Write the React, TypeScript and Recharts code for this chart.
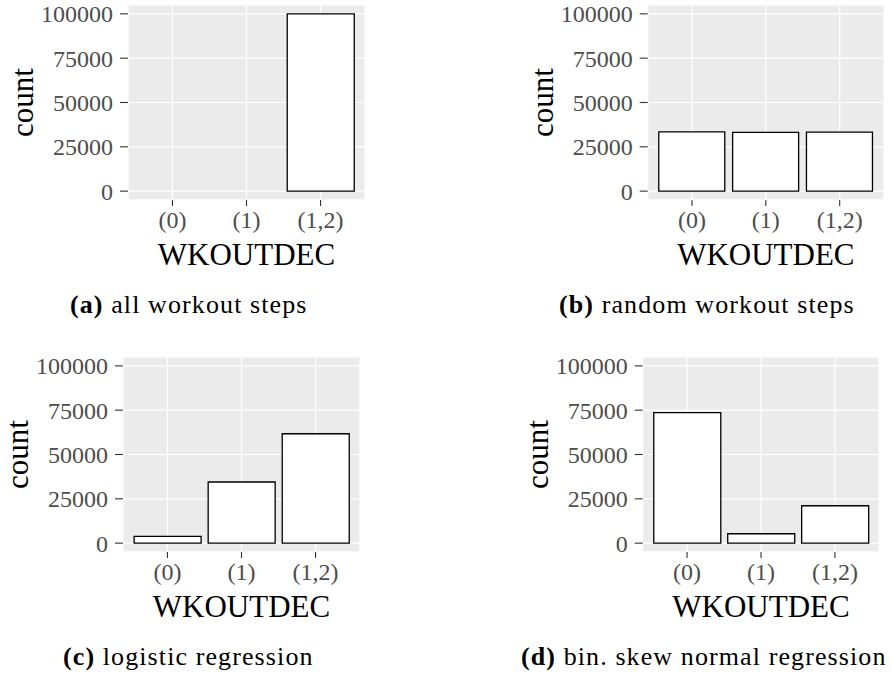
import React from "react"
import { BarChart, Bar, XAxis, YAxis, CartesianGrid } from "recharts"

const categories = ["(0)", "(1)", "(1,2)"]
const allWorkoutSteps = [0, 0, 100000]
const randomWorkoutSteps = [33400, 33200, 33300]
const logisticRegression = [3800, 34500, 61700]
const skewNormalRegression = [73600, 5300, 21100]

const majorTicks = [0, 25000, 50000, 75000, 100000]
const minorTicks = [12500, 37500, 62500, 87500]
const yDomain = [-5000, 105000]

const FONT = '"Liberation Serif", "DejaVu Serif", serif'

interface PanelProps { values: number[]; left: number; top: number; plotLeft: number; plotRight: number }

function Panel({ values, left, top, plotLeft, plotRight }: PanelProps) {
  const data = categories.map((name, i) => ({ name, count: values[i] }))
  const W = 446, H = 275, yW = 100, xH = 40
  const pad = (plotRight - plotLeft) / 32
  return (
    <div style={{ position: "absolute", left, top }}>
      <BarChart width={W} height={H} data={data} barCategoryGap="5%"
        margin={{ top: 5, left: plotLeft - yW, right: W - plotRight, bottom: 35 }}>
        <CartesianGrid fill="#EBEBEB" stroke="#FFFFFF" strokeWidth={1.2} />
        <CartesianGrid yAxisId="minor" vertical={false} stroke="#FFFFFF" strokeWidth={0.6} />
        <YAxis yAxisId="minor" hide type="number" domain={yDomain} ticks={minorTicks} />
        <XAxis dataKey="name" height={xH} padding={{ left: pad, right: pad }}
          axisLine={false} tickSize={6} tickMargin={5}
          tickLine={{ stroke: "#333333", strokeWidth: 1.1 }}
          tick={{ fill: "#4D4D4D", fontSize: 24, fontFamily: FONT }}
          label={(p: any) => (
            <text x={p.viewBox.x + p.viewBox.width / 2} y={p.viewBox.y + 65} textAnchor="middle"
              fill="#000" fontSize={31} fontFamily={FONT}>WKOUTDEC</text>
          )} />
        <YAxis type="number" width={yW} domain={yDomain} ticks={majorTicks} interval={0}
          axisLine={false} tickSize={8} tickMargin={7}
          tickLine={{ stroke: "#333333", strokeWidth: 1.1 }}
          tick={{ fill: "#4D4D4D", fontSize: 24, fontFamily: FONT }}
          label={(p: any) => {
            const x = p.viewBox.x + p.viewBox.width - 95
            const y = p.viewBox.y + p.viewBox.height / 2
            return (
              <text x={x} y={y} transform={`rotate(-90, ${x}, ${y})`} textAnchor="middle"
                fill="#000" fontSize={31} fontFamily={FONT}>count</text>
            )
          }} />
        <Bar dataKey="count" fill="#FFFFFF" stroke="#000000" strokeWidth={1.3} isAnimationActive={false} />
      </BarChart>
    </div>
  )
}

const captionStyle = { fontSize: 26, fontFamily: FONT, letterSpacing: 1.1, fill: "#000" }

export default function App() {
  return (
    <div style={{ position: "absolute", left: 0, top: 0, width: 892, height: 676, background: "#fff", overflow: "hidden" }}>
      <svg width={892} height={676} style={{ position: "absolute", left: 0, top: 0, pointerEvents: "none" }}>
        <text x={70} y={313} style={captionStyle}><tspan fontWeight="bold">(a)</tspan>{" all workout steps"}</text>
        <text x={559} y={313} style={captionStyle}><tspan fontWeight="bold">(b)</tspan>{" random workout steps"}</text>
        <text x={63} y={665} style={captionStyle}><tspan fontWeight="bold">(c)</tspan>{" logistic regression"}</text>
        <text x={521} y={665} style={captionStyle}><tspan fontWeight="bold">(d)</tspan>{" bin. skew normal regression"}</text>
      </svg>
      <Panel values={allWorkoutSteps} left={0} top={0} plotLeft={128} plotRight={365} />
      <Panel values={randomWorkoutSteps} left={446} top={0} plotLeft={201.7} plotRight={438} />
      <Panel values={logisticRegression} left={0} top={351.7} plotLeft={123} plotRight={360} />
      <Panel values={skewNormalRegression} left={446} top={351.7} plotLeft={196.7} plotRight={433.3} />
    </div>
  )
}
